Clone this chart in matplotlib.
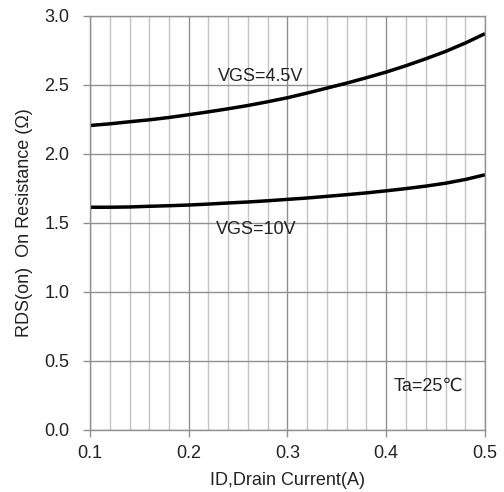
import matplotlib
matplotlib.use("Agg")
import matplotlib.pyplot as plt
import numpy as np

plt.rcParams['font.family'] = ['Liberation Sans', 'DejaVu Sans']

current = [0.10, 0.12, 0.14, 0.16, 0.18, 0.20, 0.22, 0.24, 0.26, 0.28, 0.30,
           0.32, 0.34, 0.36, 0.38, 0.40, 0.42, 0.44, 0.46, 0.48, 0.50]
rds_vgs45 = [2.205, 2.217, 2.232, 2.246, 2.263, 2.283, 2.304, 2.326, 2.350, 2.377, 2.406,
             2.440, 2.476, 2.512, 2.551, 2.592, 2.638, 2.688, 2.741, 2.802, 2.870]
rds_vgs10 = [1.613, 1.613, 1.615, 1.620, 1.624, 1.629, 1.636, 1.644, 1.651, 1.660, 1.670,
             1.680, 1.692, 1.704, 1.717, 1.732, 1.748, 1.766, 1.787, 1.814, 1.848]
x_ticks = [0.1, 0.2, 0.3, 0.4, 0.5]
y_ticks = [0.0, 0.5, 1.0, 1.5, 2.0, 2.5, 3.0]

FS = 13

fig = plt.figure(figsize=(5.04, 4.92), dpi=100)
ax = fig.add_axes([90/504, 1-430/492, 395/504, (430-15.7)/492])

ax.set_xlim(0.1, 0.5)
ax.set_ylim(0.0, 3.0)
ax.set_xticks(x_ticks)
ax.set_xticklabels([f"{v:.1f}" for v in x_ticks])
ax.set_yticks(y_ticks)
ax.set_yticklabels([f"{v:.1f}" for v in y_ticks])
ax.set_xticks(np.arange(0.1, 0.5001, 0.02), minor=True)

ax.grid(which='major', axis='both', color='#909090', linewidth=1.0)
ax.grid(which='minor', axis='x', color='#c4c4c4', linewidth=1.0)
ax.set_axisbelow(True)
ax.tick_params(axis='both', which='major', direction='out', length=5, width=1,
               color='#909090', labelsize=FS, labelcolor='#222222')
ax.tick_params(axis='x', which='minor', length=0)
ax.tick_params(axis='x', which='major', pad=6)
ax.tick_params(axis='y', which='major', pad=10)
for s in ax.spines.values():
    s.set_color('#909090')
    s.set_linewidth(1.0)

ax.plot(current, rds_vgs45, color='black', linewidth=2.5, solid_capstyle='butt')
ax.plot(current, rds_vgs10, color='black', linewidth=2.5, solid_capstyle='butt')

ax.text(0.2296, 2.56, "VGS=4.5V", fontsize=FS, color='#222222', va='center', ha='left')
ax.text(0.2280, 1.455, "VGS=10V", fontsize=FS, color='#222222', va='center', ha='left')
ax.text(0.4075, 0.32, "Ta=25℃", fontsize=FS, color='#222222', va='center', ha='left')

ax.set_xlabel("ID,Drain Current(A)", fontsize=FS, color='#222222', labelpad=7)
ax.set_ylabel("RDS(on)  On Resistance (Ω)", fontsize=FS, color='#222222', labelpad=8)

fig.savefig("out.png", dpi=100)
